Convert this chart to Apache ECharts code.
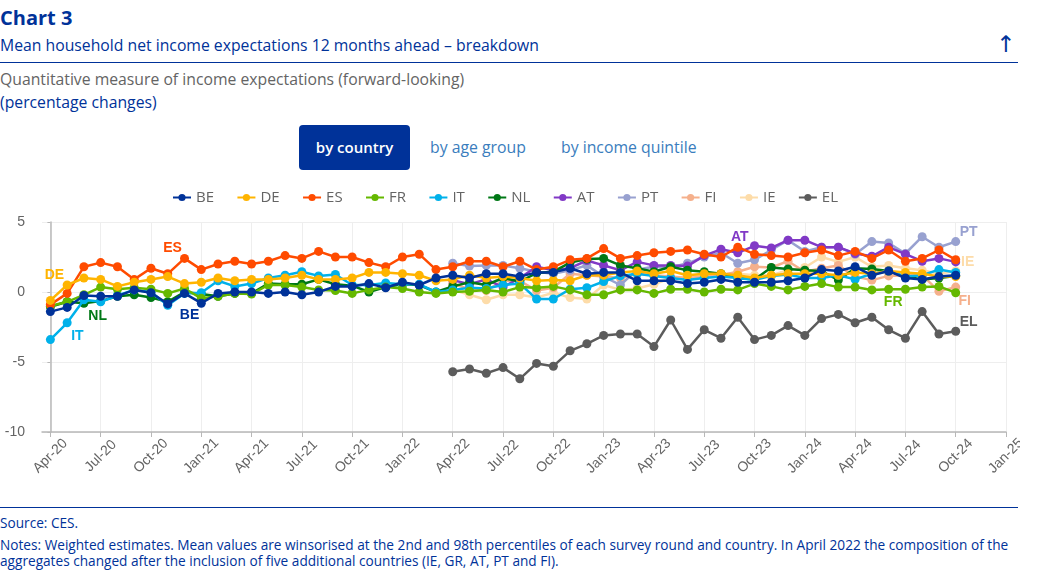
<!DOCTYPE html>
<html>
<head>
<meta charset="utf-8">
<title>Chart 3</title>
<script src="https://cdn.jsdelivr.net/npm/echarts@6/dist/echarts.min.js"></script>
<style>
  html, body { margin: 0; padding: 0; background: #fff; }
  body { width: 1045px; height: 577px; position: relative; overflow: hidden; font-family: "Open Sans", sans-serif; color: #003299; }
  .t { position: absolute; white-space: nowrap; }
  .rule { position: absolute; left: 0; width: 1018px; height: 1px; background: #003299; }
  #chart { position: absolute; left: 0; top: 180px; width: 1020px; height: 300px; }
</style>
</head>
<body>
  <div class="t" style="left:0;top:4px;font-size:20px;font-weight:700;line-height:27px">Chart 3</div>
  <div class="t" style="left:0;top:35px;font-size:15.75px;line-height:20px">Mean household net income expectations 12 months ahead – breakdown</div>
  <div class="t" style="left:996px;top:30px;font-size:23px;line-height:28px;font-family:'DejaVu Sans'">↑</div>
  <div class="rule" style="top:62px"></div>
  <div class="t" style="left:0;top:69px;font-size:15.75px;line-height:20px;color:#646464">Quantitative measure of income expectations (forward-looking)</div>
  <div class="t" style="left:0;top:92px;font-size:15.75px;line-height:20px">(percentage changes)</div>
  <div class="t" style="left:299px;top:125px;width:111px;height:45px;line-height:45px;background:#003299;border-radius:4px;color:#fff;font-size:15px;font-weight:600;text-align:center">by country</div>
  <div class="t" style="left:430px;top:137px;font-size:15.8px;line-height:20px;color:#3a7dbd">by age group</div>
  <div class="t" style="left:561px;top:137px;font-size:15.8px;line-height:20px;color:#3a7dbd">by income quintile</div>
  <div id="chart"></div>
  <div class="rule" style="top:507px"></div>
  <div class="t" style="left:0;top:514px;font-size:13.65px;line-height:17px">Source: CES.</div>
  <div class="t" style="left:0;top:537px;font-size:13.65px;line-height:16px">Notes: Weighted estimates. Mean values are winsorised at the 2nd and 98th percentiles of each survey round and country. In April 2022 the composition of the<br>aggregates changed after the inclusion of five additional countries (IE, GR, AT, PT and FI).</div>

<script>
const months = ["Apr-20","May-20","Jun-20","Jul-20","Aug-20","Sep-20","Oct-20","Nov-20","Dec-20","Jan-21","Feb-21","Mar-21","Apr-21","May-21","Jun-21","Jul-21","Aug-21","Sep-21","Oct-21","Nov-21","Dec-21","Jan-22","Feb-22","Mar-22","Apr-22","May-22","Jun-22","Jul-22","Aug-22","Sep-22","Oct-22","Nov-22","Dec-22","Jan-23","Feb-23","Mar-23","Apr-23","May-23","Jun-23","Jul-23","Aug-23","Sep-23","Oct-23","Nov-23","Dec-23","Jan-24","Feb-24","Mar-24","Apr-24","May-24","Jun-24","Jul-24","Aug-24","Sep-24","Oct-24","Nov-24","Dec-24","Jan-25"];
const tickIdx = [0,3,6,9,12,15,18,21,24,27,30,33,36,39,42,45,48,51,54,57];

const BE = [-1.4,-1.1,-0.25,-0.3,-0.3,0.15,-0.05,-0.85,-0.1,-0.8,-0.1,0,0,-0.1,0,-0.2,0,0.4,0.4,0.6,0.3,0.7,0.5,1.0,1.2,1.0,1.3,1.3,1.1,1.4,1.4,1.7,1.3,1.4,1.4,0.8,0.8,0.8,0.6,0.7,0.9,0.7,0.7,0.7,0.8,1.0,1.6,1.5,1.8,1.2,1.5,1.0,0.9,1.1,1.2];
const DE = [-0.6,0.5,1.0,0.9,0.4,0.7,0.9,1.1,0.6,0.7,1.0,0.8,0.9,0.9,1.0,1.2,0.9,0.9,1.0,1.4,1.4,1.3,1.2,0.8,0.9,1.2,1.0,1.1,1.0,0.8,0.85,0.8,1.2,1.2,1.4,1.5,1.3,1.5,1.2,1.3,1.3,1.2,1.0,1.2,1.3,1.3,1.3,1.2,1.4,1.3,1.5,1.4,1.3,1.1,1.1];
const ES = [-0.9,-0.1,1.8,2.1,1.8,0.9,1.7,1.3,2.4,1.6,2.0,2.2,2.0,2.2,2.6,2.4,2.9,2.5,2.5,2.1,1.8,2.5,2.7,1.6,1.8,2.2,2.2,1.8,2.2,1.6,1.8,2.3,2.4,3.1,2.4,2.6,2.8,2.9,3.0,2.7,2.5,3.2,2.7,2.6,2.5,2.8,3.0,2.6,2.9,2.4,3.0,2.2,2.4,3.0,2.3];
const FR = [-1.0,-0.7,-0.2,0.35,0.2,0.3,0.2,-0.1,0.25,-0.45,-0.3,-0.1,-0.15,0.5,0.5,0.35,0.15,0.1,-0.1,0.15,0.35,0.25,0,-0.1,0,0.05,0.15,0,0.35,0.3,0.4,0.15,-0.2,-0.2,0.15,0.15,-0.1,0.2,0.2,0,0.2,0.15,0.6,0.4,0.15,0.4,0.6,0.35,0.35,0.15,0.2,0.2,0.35,0.4,-0.05];
const IT = [-3.4,-2.2,-0.55,-0.7,-0.25,0.15,0,-0.95,-0.1,-0.05,0.8,0.4,0.6,1.0,1.2,1.45,1.15,1.25,0.5,0.5,0.65,0.55,0.55,0,0.15,0.3,0.25,0.5,0.6,-0.5,-0.5,0.2,0.3,0.75,1.15,1.3,1.15,1.0,0.85,1.0,1.1,1.0,0.85,1.15,1.25,1.0,1.0,1.2,0.9,1.3,1.5,1.1,1.2,1.6,1.4];
const NL = [-1.05,-0.7,-0.8,-0.65,-0.3,-0.2,-0.4,-0.7,0,-0.15,-0.3,-0.1,-0.1,0.6,0.55,0.55,0.9,0.55,0.45,0,0.35,0.55,0.5,0,0.4,0.7,0.5,1.0,0.75,1.35,1.45,2.1,2.35,2.4,1.9,1.7,1.45,1.8,1.55,1.45,1.3,1.0,0.9,1.75,1.65,1.55,1.5,0.85,1.7,1.65,1.5,1.1,0.9,1.0,1.15];
const AT = [null,null,null,null,null,null,null,null,null,null,null,null,null,null,null,null,null,null,null,null,null,null,null,null,0.85,0.55,0.9,0.35,1.0,1.8,1.55,1.7,2.25,1.9,1.55,2.15,1.9,1.9,1.85,2.6,3.05,2.8,3.3,3.15,3.7,3.7,3.2,3.2,2.75,2.55,3.2,2.7,2.2,2.4,2.15];
const PT = [null,null,null,null,null,null,null,null,null,null,null,null,null,null,null,null,null,null,null,null,null,null,null,null,2.05,1.85,1.9,1.9,1.7,1.45,1.3,1.55,1.9,1.1,0.5,1.6,1.8,1.75,2.05,2.5,2.8,2.05,2.3,3.0,3.7,2.9,3.2,3.2,2.7,3.6,3.5,2.75,3.95,3.2,3.6];
const FI = [null,null,null,null,null,null,null,null,null,null,null,null,null,null,null,null,null,null,null,null,null,null,null,null,0.6,0.2,0.1,0.8,0.8,0.1,0.3,1.3,1.2,1.1,1.0,1.3,1.2,1.1,1.0,1.1,1.2,1.45,1.8,1.75,2.2,1.45,1.7,1.9,1.1,0.85,1.15,1.2,1.2,0.05,0.35];
const IE = [null,null,null,null,null,null,null,null,null,null,null,null,null,null,null,null,null,null,null,null,null,null,null,null,0.15,-0.2,-0.55,-0.2,-0.2,-0.4,-0.05,-0.4,-0.5,0.5,0.15,0.25,0.55,1.0,1.1,1.2,1.3,1.3,1.2,1.2,1.55,1.75,2.5,2.15,2.5,1.8,1.9,1.7,1.55,1.3,1.5];
const EL = [null,null,null,null,null,null,null,null,null,null,null,null,null,null,null,null,null,null,null,null,null,null,null,null,-5.7,-5.5,-5.8,-5.4,-6.2,-5.1,-5.3,-4.2,-3.7,-3.1,-3.0,-3.0,-3.9,-2.0,-4.1,-2.7,-3.3,-1.8,-3.4,-3.1,-2.4,-3.1,-1.9,-1.6,-2.2,-1.8,-2.7,-3.3,-1.4,-3.0,-2.8];

const names = ["BE","DE","ES","FR","IT","NL","AT","PT","FI","IE","EL"];
const values = [BE,DE,ES,FR,IT,NL,AT,PT,FI,IE,EL];
const colors = ["#003299","#ffb400","#ff4b00","#65b800","#00b1ea","#007816","#8139c6","#98a1d0","#f5b08c","#fddca9","#5c5c5c"];

// series name -> [point index, label dx, label dy]
const callouts = {
  BE: [8, 5, 22],
  DE: [0, 4, -25],
  ES: [8, -12, -10],
  FR: [52, -29, 15],
  IT: [0, 27, -3],
  NL: [3, -3, 15],
  AT: [41, 2, -16],
  PT: [54, 13, -9],
  FI: [54, 9, 14],
  IE: [54, 12, -9],
  EL: [54, 13, -9]
};

const chart = echarts.init(document.getElementById("chart"));

const series = names.map((name, i) => {
  const c = callouts[name];
  const data = [];
  values[i].forEach((v, idx) => {
    if (v === null) return;
    const item = { value: [idx, v] };
    if (idx === c[0]) {
      item.label = { show: true, position: "inside", offset: [c[1], c[2]], formatter: name,
        color: colors[i], fontFamily: "Liberation Sans", fontSize: 14, fontWeight: "bold" };
    }
    data.push(item);
  });
  return {
    name: name,
    type: "line",
    data: data,
    z: 20 - i,
    symbol: "circle",
    symbolSize: 9,
    showSymbol: true,
    lineStyle: { width: 2.5, color: colors[i] },
    itemStyle: { color: colors[i] },
    label: { show: false },
    emphasis: { disabled: true }
  };
});

chart.setOption({
  animation: false,
  color: colors,
  legend: {
    data: names,
    top: 5,
    left: 167,
    itemWidth: 18,
    itemHeight: 9,
    itemGap: 22.4,
    textStyle: { color: "#646464", fontSize: 15, fontFamily: "Open Sans" }
  },
  grid: { left: 42, right: 14, top: 42, height: 210, outerBoundsMode: "none" },
  xAxis: {
    type: "value",
    min: -0.5,
    max: 57,
    axisLine: { show: true, onZero: false, lineStyle: { color: "#b8b8b8", width: 1.5 } },
    axisTick: { show: true, customValues: tickIdx, length: 5, lineStyle: { color: "#b8b8b8" } },
    axisLabel: {
      customValues: tickIdx,
      rotate: 45,
      align: "center",
      verticalAlign: "middle",
      margin: 24,
      color: "#646464",
      fontFamily: "Liberation Sans",
      fontSize: 14,
      formatter: v => months[v]
    },
    splitLine: { show: true, lineStyle: { color: "#eeeeee" } }
  },
  yAxis: {
    type: "value",
    min: -10,
    max: 5,
    interval: 5,
    axisLine: { show: true, lineStyle: { color: "#b8b8b8", width: 1.5 } },
    axisTick: { show: true, length: 3, lineStyle: { color: "#b8b8b8" } },
    axisLabel: { margin: 17, color: "#646464", fontFamily: "Liberation Sans", fontSize: 14 },
    splitLine: { show: true, lineStyle: { color: "#eeeeee" } }
  },
  series: series
});
</script>
</body>
</html>
